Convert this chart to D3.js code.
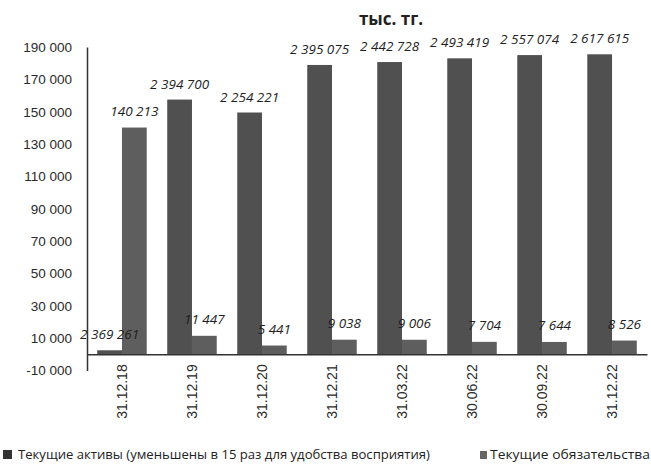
<!DOCTYPE html>
<html>
  <head>
    <meta charset="utf-8">
    <script src="https://d3js.org/d3.v7.min.js"></script>
    <style>
      body { margin: 0; background: #fff; }
      svg { font-family: "Open Sans", "Noto Sans", sans-serif; }
      .axis text { font-size: 13.5px; fill: #2a2a2a; }
      .axis path { stroke: #333; stroke-width: 1.5; }
      .lbl { font-size: 13.5px; font-style: italic; fill: #1e1e1e; }
    </style>
  </head>
  <body>
    <svg width="651" height="473"></svg>
    <script>

    const dates = ["31.12.18", "31.12.19", "31.12.20", "31.12.21", "31.03.22", "30.06.22", "30.09.22", "31.12.22"];

    // current assets, real values (labels) and bar heights as drawn (≈ /15)
    const assetsTotal = [2369261, 2394700, 2254221, 2395075, 2442728, 2493419, 2557074, 2617615];
    const assetsBar = [2500, 157500, 149500, 178900, 180700, 183000, 185000, 185500];
    // current liabilities
    const liabilities = [140213, 11447, 5441, 9038, 9006, 7704, 7644, 8526];

    const yTicks = [-10000, 10000, 30000, 50000, 70000, 90000, 110000, 130000, 150000, 170000, 190000];

    const fmt = d3.formatLocale({ decimal: ",", thousands: " ", grouping: [3], currency: ["", ""], minus: "-" }).format(",d");

    const svg = d3.select("svg");

    const x = d3.scaleBand()
        .domain(dates)
        .range([87, 647])
        .paddingInner(0.293)
        .paddingOuter(0.146);

    const xs = d3.scaleBand()
        .domain(["a", "l"])
        .range([0, x.bandwidth()]);

    const y = d3.scaleLinear()
        .domain([-10000, 190000])
        .range([370.5, 47]);

    // title
    svg.append("text")
        .attr("x", 391)
        .attr("y", 25)
        .attr("text-anchor", "middle")
        .style("font-size", "17px")
        .style("font-weight", "bold")
        .style("fill", "#222")
        .text("тыс. тг.");

    // y axis
    svg.append("g")
        .attr("class", "axis")
        .attr("transform", "translate(87,0)")
        .call(d3.axisLeft(y).tickValues(yTicks).tickFormat(fmt).tickSize(0).tickPadding(15));

    const rows = dates.map((d, i) => ({ d, a: assetsBar[i], at: assetsTotal[i], l: liabilities[i] }));

    const grp = svg.append("g").selectAll("g")
        .data(rows)
        .join("g")
        .attr("transform", r => `translate(${x(r.d)},0)`);

    grp.append("rect")
        .attr("x", xs("a"))
        .attr("width", xs.bandwidth())
        .attr("y", r => y(r.a))
        .attr("height", r => y(0) - y(r.a))
        .attr("fill", "#505050");

    grp.append("rect")
        .attr("x", xs("l"))
        .attr("width", xs.bandwidth())
        .attr("y", r => y(r.l))
        .attr("height", r => y(0) - y(r.l))
        .attr("fill", "#5e5e5e");

    // x axis on zero line
    const xAxis = svg.append("g")
        .attr("class", "axis")
        .attr("transform", `translate(0,${y(0)})`)
        .call(d3.axisBottom(x).tickSize(0).tickSizeOuter(0));

    xAxis.selectAll("text")
        .attr("transform", "rotate(-90)")
        .attr("text-anchor", "end")
        .attr("x", -10)
        .attr("y", 0)
        .attr("dy", "0.35em")
        .style("font-size", "14px");

    // data labels
    grp.append("text")
        .attr("class", "lbl")
        .attr("x", xs("a") + xs.bandwidth() / 2)
        .attr("y", r => y(r.a) - 11)
        .attr("text-anchor", "middle")
        .text(r => fmt(r.at));

    grp.append("text")
        .attr("class", "lbl")
        .attr("x", xs("l") + xs.bandwidth() / 2)
        .attr("y", r => y(r.l) - 12)
        .attr("text-anchor", "middle")
        .text(r => fmt(r.l));

    // legend
    const legend = svg.append("g");

    legend.append("rect")
        .attr("x", 3).attr("y", 450)
        .attr("width", 9).attr("height", 9)
        .attr("fill", "#333");

    legend.append("text")
        .attr("x", 18).attr("y", 459)
        .attr("textLength", 412)
        .attr("lengthAdjust", "spacingAndGlyphs")
        .style("font-size", "13px")
        .style("fill", "#222")
        .text("Текущие активы (уменьшены в 15 раз для удобства восприятия)");

    legend.append("rect")
        .attr("x", 480).attr("y", 451)
        .attr("width", 7).attr("height", 8)
        .attr("fill", "#666");

    legend.append("text")
        .attr("x", 490).attr("y", 459)
        .attr("textLength", 160)
        .attr("lengthAdjust", "spacingAndGlyphs")
        .style("font-size", "13px")
        .style("fill", "#222")
        .text("Текущие обязательства");

    </script>
  </body>
</html>
